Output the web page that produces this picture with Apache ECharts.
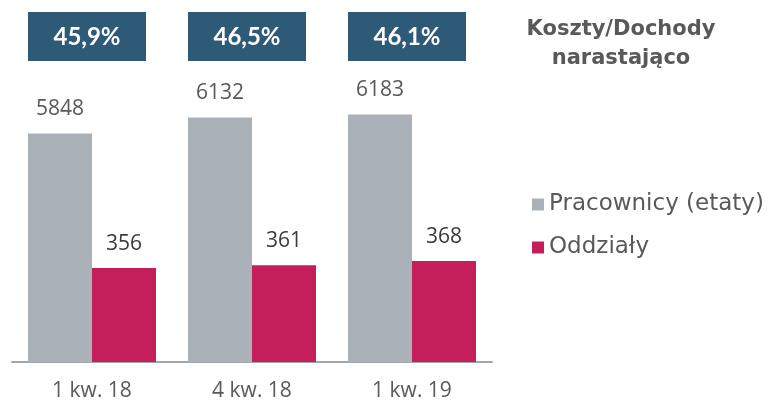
<!DOCTYPE html>
<html>
<head>
<meta charset="utf-8">
<script src="https://cdn.jsdelivr.net/npm/echarts@6/dist/echarts.min.js"></script>
<style>
html,body{margin:0;padding:0;background:#fff;}
#chart{width:770px;height:404px;}
</style>
</head>
<body>
<div id="chart"></div>
<script>
var categories = ['1 kw. 18', '4 kw. 18', '1 kw. 19'];
var pracownicy = [5848, 6132, 6183];
var oddzialy = [356, 361, 368];
var koszty = ['45,9%', '46,5%', '46,1%'];

var chart = echarts.init(document.getElementById('chart'));
var option = {
    animation: false,
    grid: {left: 12, right: 278, top: 12, bottom: 42},
    legend: {
        orient: 'vertical',
        left: 527,
        top: 188,
        icon: 'rect',
        itemWidth: 12,
        itemHeight: 12,
        itemGap: 20,
        itemStyle: {borderWidth: 0},
        textStyle: {fontFamily: 'DejaVu Sans', fontSize: 23, color: '#595959'},
        data: ['Pracownicy (etaty)', 'Oddziały']
    },
    title: {
        text: 'Koszty/Dochody\nnarastająco',
        left: 616,
        top: 10,
        textAlign: 'center',
        textStyle: {fontFamily: 'DejaVu Sans', fontWeight: 'bold', fontSize: 21, color: '#595959', lineHeight: 29}
    },
    xAxis: {
        type: 'category',
        data: categories,
        axisLine: {lineStyle: {color: '#a6a6a6', width: 2}},
        axisTick: {show: false},
        axisLabel: {fontFamily: 'Open Sans', fontSize: 21, color: '#595959', margin: 19}
    },
    yAxis: [
        {type: 'value', min: 1800, max: 8000, show: false},
        {type: 'value', min: 195, max: 795, show: false}
    ],
    series: [
        {
            name: 'Pracownicy (etaty)',
            type: 'bar',
            yAxisIndex: 0,
            barWidth: 64,
            barGap: 0,
            data: pracownicy,
            itemStyle: {color: '#aab1b9'},
            label: {show: true, position: 'top', distance: 14, fontFamily: 'Open Sans', fontSize: 21, color: '#595959'}
        },
        {
            name: 'Oddziały',
            type: 'bar',
            yAxisIndex: 1,
            barWidth: 64,
            barGap: 0,
            data: oddzialy,
            itemStyle: {color: '#c51f5b'},
            label: {show: true, position: 'top', distance: 14, fontFamily: 'Open Sans', fontSize: 21, color: '#3a3a3a'}
        }
    ]
};
chart.setOption(option);

// ramki z wskaznikiem koszty/dochody nad kazda kategoria
var boxes = [];
for (var i = 0; i < categories.length; i++) {
    var cx = chart.convertToPixel({xAxisIndex: 0}, categories[i]) - 5;
    boxes.push({
        type: 'rect',
        shape: {x: cx - 59, y: 12, width: 118, height: 49},
        style: {fill: '#2e5977'}
    });
    boxes.push({
        type: 'text',
        x: cx,
        y: 37,
        style: {
            text: koszty[i],
            fill: '#ffffff',
            font: 'bold 24px Lato',
            align: 'center',
            verticalAlign: 'middle'
        }
    });
}
chart.setOption({graphic: boxes});
</script>
</body>
</html>
